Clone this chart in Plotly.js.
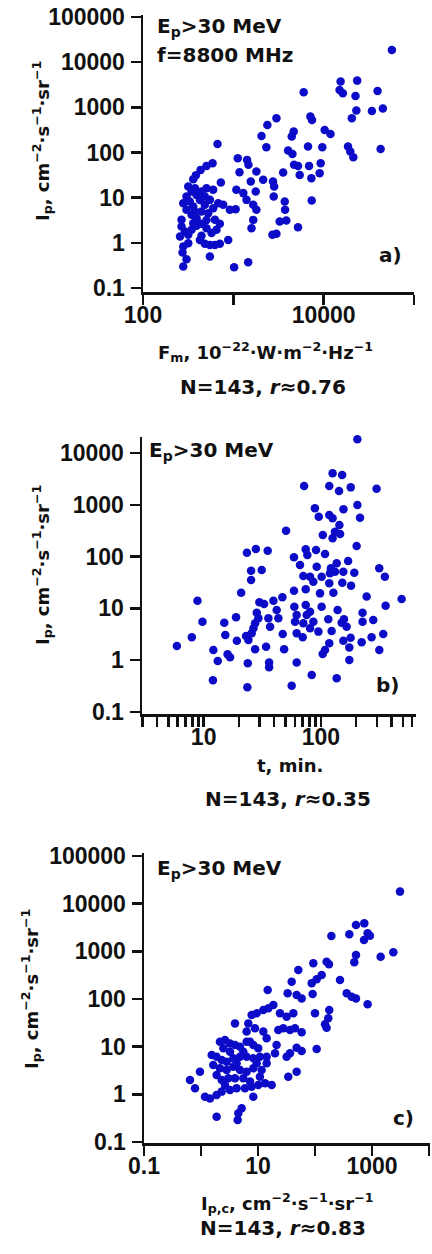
<!DOCTYPE html>
<html>
<head>
<meta charset="utf-8">
<script src="https://cdn.plot.ly/plotly-3.0.1.min.js"></script>
<style>html,body{margin:0;padding:0;background:#fff;}#chart{width:432px;height:1254px;}</style>
</head>
<body>
<div id="chart"></div>
<script>
// ---- Panel a: I_p vs peak flux F_m at 8800 MHz ----
const aFlux = [56900,15400,23500,15000,16300,22500,39500,6010,23000,20500,34200,45200,42700,18600,19700,21300,9660,6710,10260,11900,
7130,7430,3000,2380,4660,4430,2050,2320,4040,4510,668,1120,1420,1470,1170,1800,2140,3560,4700,5200,
6890,9270,9030,7310,5430,1560,2750,2830,728,589,505,434,385,360,1080,1290,1400,1660,1800,1660,
1590,1770,2800,3710,3740,7370,3860,3260,5200,2710,3000,877,1020,1460,550,303,279,279,274,317,
345,303,330,392,444,505,598,427,484,360,303,345,392,444,527,598,680,550,772,914,
1060,267,291,257,317,345,392,444,505,574,651,709,625,427,484,550,625,709,444,376,
279,376,484,267,505,360,317];
const aIp = [18600,3710,3900,2430,2050,1790,2310,2150,848,573,832,938,120,135,105,78.5,131,135,316,258,
624,526,573,408,290,225,233,131,110,93,155,74.7,68.6,53.2,36.6,37.8,24.8,36.0,53.2,50.5,
50.5,57.8,34.8,27.0,31.9,22.8,22.8,17.6,21.6,57.8,50.5,41.2,31.4,25.6,14.9,12.6,8.93,7.0,5.37,3.22,
2.11,13.7,10.6,8.2,5.37,8.6,3.12,2.96,2.22,1.50,1.58,1.16,0.289,0.373,0.498,0.435,0.299,0.83,0.61,17.6,
13.7,10.6,8.2,11.5,13.7,16.2,14.9,8.9,7.0,6.37,5.37,4.16,3.51,4.93,4.53,5.85,7.53,8.93,7.0,5.37,
5.56,2.30,1.78,1.38,1.50,1.94,2.38,2.63,2.11,1.64,1.94,2.63,3.23,1.16,0.95,0.90,0.90,0.95,1.43,16.2,
7.5,4.93,10.6,3.23,3.2,2.7,0.98];

// ---- Panel b: I_p vs duration t ----
const bTime = [205,126,152,72,118,143,180,299,89,96,118,126,156,205,216,144,132,126,146,104,
50.5,202,23.4,27.9,35.2,59,74.3,91,76.7,108.5,66.4,92.2,136.5,171,122,25.4,31.3,25.4,70.9,80.9,
86.3,101.6,119.6,132,155.6,193,118,152.5,181,315,352,20.9,59,74.3,98.4,128,246,489,357,8.86,
29.9,32.8,39.4,47,59.4,74.3,80.9,101.6,139,62.2,75.7,28.4,29.3,27.5,35.7,42,43.4,36.9,18.9,15,
9.77,26.6,25.7,60.2,70.9,86.3,115.8,157.5,227,280,227,15.3,23,24.1,27.5,19.2,7.93,5.91,47.3,62.2,
80.9,95.3,123.6,150.5,166,70,155.6,179.6,223,271,341,12.1,16,16.8,13.2,34.1,48.6,118,108.5,103.7,
175,315.5,23.8,36.2,36.2,62.2,175,12,23.6,56.4,83.6,136.5];
const bIp = [18400,4050,3760,2310,2310,1850,2170,2050,855,590,636,548,818,991,565,408,303,225,273,261,
317,160,119,140,130,97,138,134,107,112,68.8,63.9,74.1,82.2,59.3,53.5,55.1,35.3,42.2,41.0,
32.8,41,47.5,51.2,51.2,48.9,30.5,31.4,27.5,59.3,41,20.1,22.0,23.3,19.5,20.1,16.9,15.2,11.3,14.1,
13.1,12.2,14.1,16.4,10.8,11.6,8.65,10.8,9.31,7.46,7.46,8.27,6.43,5.15,6.43,9.31,6.43,4.44,6.73,5.30,
5.54,4.12,3.30,5.54,5.15,5.54,6.15,6.15,8.27,5.97,5.54,3.06,2.93,2.45,1.62,2.38,2.76,1.88,3.21,3.30,
4.12,3.56,3.66,5.30,4.44,2.76,2.38,2.72,2.21,2.76,3.21,1.57,1.30,1.14,0.96,1.82,1.62,2.12,1.57,1.32,
1.75,1.57,0.87,0.90,0.73,0.90,1.01,0.41,0.30,0.32,0.52,0.45];

// ---- Panel c: I_p vs calculated I_p,c ----
const cIpc = [3100,524,733,839,922,724,400,194,524,490,1420,2370,93.5,160,176,51,131,107,87.5,275,
39,14.8,33.1,47.7,58.4,91,360,440,524,839,18.6,15.2,12.4,9.48,7.74,24.3,31.8,41.7,100,178,
171,150,160,3.95,6.77,8.86,6.32,12.4,14.2,22.7,27.8,36.4,44.6,58.4,21.2,19.9,36.4,47.7,58.4,107,
2.15,2.64,3.23,3.95,4.83,6.32,8.28,10.1,1.54,1.88,2.31,2.82,3.69,4.83,6.32,8.28,10.8,14.2,31.8,1.64,
2.15,2.82,3.69,4.83,6.32,8.28,11.6,0.96,0.641,0.785,1.175,1.44,1.88,2.31,3.23,4.22,5.91,7.74,10.1,13.3,
17.4,2.31,3.02,3.95,5.53,7.24,10.8,8.28,34,47.7,5.17,4.52,1.88,4.40,3.23,5.53,9.48,4.22,2.64,7.24,
2.47,14.2,1.88];
const cIp = [17900,3560,3860,2390,2130,1730,2280,2100,838,588,773,953,560,607,533,406,318,259,213,250,
231,155,132,121,103,127,132,112,103,77.3,74.8,63.7,58.8,50,46.1,50,42.6,50,50,58.8,
39.3,29.4,25.0,30.8,30.8,24.3,20.7,20.7,15.0,22.4,24.3,22.4,24.3,20,10.8,7.24,7.24,9.53,8.11,8.93,
12.7,13.8,11.7,10.8,10.0,12.7,10.8,9.22,6.68,6.16,5.25,4.84,5.69,6.16,6.16,5.69,6.16,6.16,6.16,4.12,
3.51,3.24,3.80,3.24,2.99,3.51,3.24,2.99,2.0,1.34,0.89,0.82,0.97,1.14,1.23,1.34,1.34,1.45,1.57,1.70,
1.57,2.0,2.17,2.17,2.17,1.85,2.35,0.89,2.35,2.99,0.51,0.40,0.34,0.29,7.85,7.85,4.47,4.47,1.57,12.7,
9.22,4.47,2.55];

// ---- tick labels ----
const yTickVals = [0.1,1,10,100,1000,10000,100000];
const yTickText = ['0.1','1','10','100','1000','10000','100000'];
const aXTickVals = [100,1000,10000,100000];
const aXTickText = ['100','','10000',''];
const bXTickVals = [3,4,5,6,7,8,9,10,20,30,40,50,60,70,80,90,100,200,300,400,500,600];
const bXTickText = ['','','','','','','','10','','','','','','','','','100','','','','',''];
const cXTickVals = [0.1,1,10,100,1000,10000];
const cXTickText = ['0.1','','10','','1000',''];

// ---- layout helpers ----
const W = 432, H = 1254;
const fx = p => p / W;
const fy = p => 1 - p / H;
const FONT = 'DejaVu Sans';
const TICKFONT = 'Arial';
const BLUE = '#0c0cc8';
const bold = arr => arr.map(t => t ? '<b>' + t + '</b>' : '');

function axisBase(extra) {
  return Object.assign({
    type: 'log', showgrid: false, zeroline: false,
    showline: true, linecolor: '#111', linewidth: 2.5,
    ticks: 'outside', ticklen: 10, tickwidth: 2.5, tickcolor: '#111',
    tickmode: 'array',
    tickfont: {family: TICKFONT, size: 23, color: '#111'},
    fixedrange: true
  }, extra);
}

const mk = {size: 8.5, color: BLUE, line: {width: 0}};
const traces = [
  {x: aFlux, y: aIp, type: 'scatter', mode: 'markers', marker: mk, xaxis: 'x', yaxis: 'y', cliponaxis: false},
  {x: bTime, y: bIp, type: 'scatter', mode: 'markers', marker: mk, xaxis: 'x2', yaxis: 'y2', cliponaxis: false},
  {x: cIpc, y: cIp, type: 'scatter', mode: 'markers', marker: mk, xaxis: 'x3', yaxis: 'y3', cliponaxis: false}
];

function ann(text, x, y, opts) {
  return Object.assign({
    text: '<b>' + text + '</b>', xref: 'paper', yref: 'paper', x: fx(x), y: fy(y),
    xanchor: 'center', yanchor: 'middle', showarrow: false,
    font: {family: FONT, size: 20, color: '#111'}
  }, opts || {});
}
const yTitle = 'I<sub>p</sub>, cm<sup>−2</sup>·s<sup>−1</sup>·sr<sup>−1</sup>';
const tfont = {family: FONT, size: 18, color: '#111'};
const nfont = {family: FONT, size: 20, color: '#111'};

const layout = {
  width: W, height: H, autosize: false, showlegend: false,
  font: {family: TICKFONT, size: 23, color: '#111'},
  margin: {l: 0, r: 0, t: 0, b: 0, pad: 0},
  paper_bgcolor: '#fff', plot_bgcolor: '#fff',
  xaxis: axisBase({domain: [fx(143), fx(414)], range: [2, 5], tickvals: aXTickVals, ticktext: bold(aXTickText), anchor: 'y', ticklabelstandoff: -9}),
  yaxis: axisBase({domain: [fy(292), fy(15)], range: [-1.089, 5.044], tickvals: yTickVals, ticktext: bold(yTickText), anchor: 'x', ticklabelstandoff: 1}),
  xaxis2: axisBase({domain: [fx(142), fx(416)], range: [0.474, 2.812], tickvals: bXTickVals, ticktext: bold(bXTickText), anchor: 'y2', ticklabelstandoff: -9}),
  yaxis2: axisBase({domain: [fy(714), fy(437)], range: [-1.039, 4.309], tickvals: yTickVals, ticktext: bold(yTickText), anchor: 'x2', ticklabelstandoff: 1}),
  xaxis3: axisBase({domain: [fx(144), fx(430)], range: [-1, 4.018], tickvals: cXTickVals, ticktext: bold(cXTickText), anchor: 'y3', ticklabelstandoff: -9}),
  yaxis3: axisBase({domain: [fy(1143), fy(853)], range: [-1.021, 5.063], tickvals: yTickVals, ticktext: bold(yTickText), anchor: 'x3', ticklabelstandoff: 1}),
  annotations: [
    ann('E<sub>p</sub>&gt;30 MeV', 155, 27, {xanchor: 'left'}),
    ann('f=8800 MHz', 155, 55, {xanchor: 'left'}),
    ann('a)', 390, 255),
    ann(yTitle, 42, 141, {textangle: -90, font: tfont}),
    ann('F<sub>m</sub>, 10<sup>−22</sup>·W·m<sup>−2</sup>·Hz<sup>−1</sup>', 265, 352, {font: tfont}),
    ann('N=143, <i>r</i>≈0.76', 263, 387, {font: nfont}),

    ann('E<sub>p</sub>&gt;30 MeV', 147, 451, {xanchor: 'left'}),
    ann('b)', 387, 685),
    ann(yTitle, 42, 565, {textangle: -90, font: tfont}),
    ann('t, min.', 290, 765, {font: tfont}),
    ann('N=143, <i>r</i>≈0.35', 288, 799, {font: nfont}),

    ann('E<sub>p</sub>&gt;30 MeV', 155, 869, {xanchor: 'left'}),
    ann('c)', 403, 1118),
    ann(yTitle, 31, 989, {textangle: -90, font: tfont}),
    ann('I<sub>p,c</sub>, cm<sup>−2</sup>·s<sup>−1</sup>·sr<sup>−1</sup>', 287, 1203, {font: tfont}),
    ann('N=143, <i>r</i>≈0.83', 283, 1228, {font: nfont})
  ]
};

Plotly.newPlot('chart', traces, layout, {staticPlot: true, displayModeBar: false});
</script>
</body>
</html>
